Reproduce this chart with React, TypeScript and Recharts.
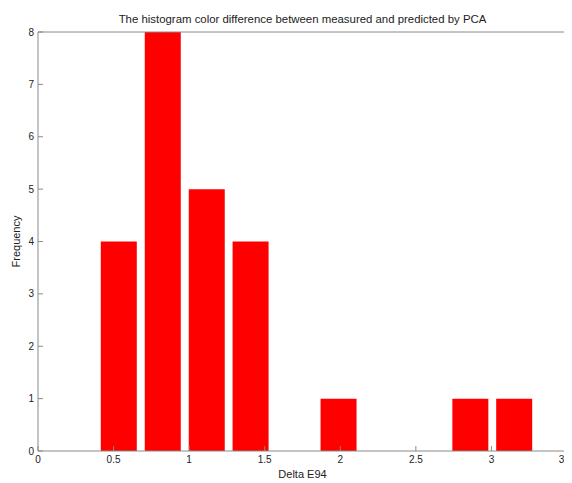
import { BarChart, Bar, XAxis, YAxis, ReferenceLine } from "recharts";

// histogram bins (centres) and their counts
const binCenters = [0.534, 0.825, 1.116, 1.406, 1.697, 1.988, 2.278, 2.569, 2.86, 3.15];
const counts = [4, 8, 5, 4, 0, 1, 0, 0, 1, 1];
const xTicks = [0, 0.5, 1, 1.5, 2, 2.5, 3, 3.5];
const yTicks = [0, 1, 2, 3, 4, 5, 6, 7, 8];

const title = "The histogram color difference between measured and predicted by PCA";

const data = binCenters.map((x, i) => ({ x, count: counts[i] }));

const font = "'Liberation Sans', Arial, sans-serif";
const axisColor = "#8a8a8a";
const tickStyle = { fontSize: 10, fill: "#222", fontFamily: font };

export default function App() {
	return (
		<BarChart
			width={564}
			height={475}
			data={data}
			margin={{ top: 24, right: 5, left: 8, bottom: 0 }}
		>
			<XAxis
				dataKey="x"
				type="number"
				domain={[0, 3.5]}
				ticks={xTicks}
				allowDataOverflow
				height={32}
				stroke={axisColor}
				tick={tickStyle}
				tickSize={-5}
				tickMargin={10}
				label={{ value: "Delta E94", position: "insideBottom", offset: 5, fontSize: 11, fill: "#222", fontFamily: font }}
			/>
			<YAxis
				domain={[0, 8]}
				ticks={yTicks}
				width={22}
				stroke={axisColor}
				tick={tickStyle}
				tickSize={-5}
				tickMargin={9}
				label={{ value: "Frequency", angle: -90, position: "insideLeft", offset: 0, fontSize: 11, fill: "#222", fontFamily: font, style: { textAnchor: "middle" } }}
			/>
			{/* box: top and right edges of the axes */}
			<ReferenceLine
				y={8}
				stroke={axisColor}
				label={{ value: title, position: "top", offset: 9, fontSize: 11.4, fill: "#222", fontFamily: font }}
			/>
			<ReferenceLine x={3.5} stroke={axisColor} />
			<Bar dataKey="count" fill="#ff0000" barSize={36} isAnimationActive={false} />
		</BarChart>
	);
}
